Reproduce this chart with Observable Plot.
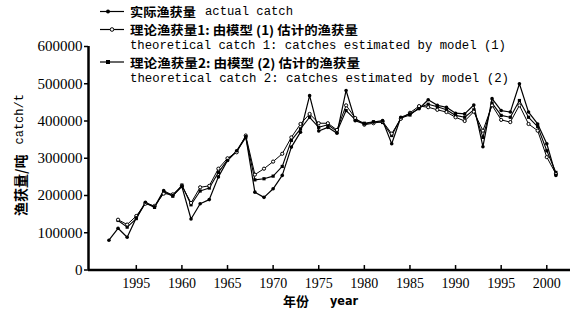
<!DOCTYPE html>
<html><head><meta charset="utf-8">
<script src="https://cdn.jsdelivr.net/npm/d3@7"></script>
<script src="https://cdn.jsdelivr.net/npm/@observablehq/plot@0.6"></script>
<style>
body{margin:0;background:#fff;}
#wrap{position:relative;width:573px;height:314px;overflow:hidden;background:#fff;}
#chart{position:absolute;left:0;top:0;}
#overlay{position:absolute;left:0;top:0;}
</style></head><body>
<div id="wrap"><div id="chart"></div><svg id="overlay" width="573" height="314"></svg></div>
<script>
const years = [1952,1953,1954,1955,1956,1957,1958,1959,1960,1961,1962,1963,1964,1965,1966,1967,1968,1969,1970,1971,1972,1973,1974,1975,1976,1977,1978,1979,1980,1981,1982,1983,1984,1985,1986,1987,1988,1989,1990,1991,1992,1993,1994,1995,1996,1997,1998,1999,2000,2001];
const actualCatch = [80000,112000,88000,140000,182000,170000,213000,200000,224000,137000,178000,189000,250000,294000,320000,358000,209000,195000,218000,254000,330000,370000,468000,373000,383000,367000,482000,401000,392000,397000,401000,339000,410000,419000,433000,457000,442000,437000,421000,419000,443000,331000,460000,428000,424000,500000,424000,392000,339000,254000];
const theoretical1 = [null,135000,122000,145000,178000,172000,205000,203000,226000,180000,222000,226000,272000,300000,316000,361000,256000,272000,291000,312000,356000,392000,419000,394000,394000,376000,442000,408000,390000,394000,399000,366000,406000,422000,440000,437000,430000,424000,410000,400000,425000,374000,442000,403000,397000,442000,392000,374000,303000,258000];
const theoretical2 = [null,133000,115000,138000,180000,168000,210000,198000,228000,175000,212000,220000,262000,296000,318000,356000,242000,245000,252000,278000,348000,379000,410000,383000,390000,372000,428000,404000,394000,398000,396000,361000,408000,416000,436000,445000,438000,430000,415000,410000,430000,356000,448000,415000,410000,455000,410000,385000,320000,262000];
const yTickValues = [0,100000,200000,300000,400000,500000,600000];
const xTickValues = [1955,1960,1965,1970,1975,1980,1985,1990,1995,2000];
const xTickLabels = ["1995","1960","1965","1970","1975","1980","1985","1990","1995","2000"];
const seriesKeys = ["actual","theo1","theo2"];
const legendZh = ["实际渔获量","理论渔获量1: 由模型 (1) 估计的渔获量","理论渔获量2: 由模型 (2) 估计的渔获量"];
const legendEn = ["actual catch","theoretical catch 1: catches estimated by model (1)","theoretical catch 2: catches estimated by model (2)"];
const yTitleZh = "渔获量/吨", yTitleEn = "catch/t";
const xTitleZh = "年份", xTitleEn = "year";

const xDomain = [1949.76, 2002.6];
const yDomain = [0, 600000];
const xTickLength = 12000;

const seriesValues = [actualCatch, theoretical1, theoretical2];
const rows = [];
seriesKeys.forEach((k, s) => years.forEach((yr, i) => {
  const v = seriesValues[s][i];
  if (v != null) rows.push({year: yr, value: v, series: k});
}));
const only = k => d => d.series === k;

const chart = Plot.plot({
  width: 573, height: 314,
  marginLeft: 88, marginRight: 3, marginTop: 46, marginBottom: 44.5,
  x: {domain: xDomain, label: null},
  y: {domain: yDomain, label: null},
  style: {background: "white", color: "black", fontFamily: "'Liberation Serif', serif", fontSize: "14px", overflow: "visible"},
  marks: [
    Plot.axisY(yTickValues, {tickSize: 4, tickPadding: 2, tickFormat: d => String(d), fontSize: 15, label: null, strokeWidth: 1.5}),
    Plot.axisX(xTickValues, {tickSize: 0, tickPadding: 8, tickFormat: d => xTickLabels[xTickValues.indexOf(d)], fontSize: 14, label: null}),
    Plot.ruleX(xTickValues, {y1: 0, y2: xTickLength, strokeWidth: 1.5}),
    Plot.ruleY([0], {strokeWidth: 2.5}),
    Plot.ruleX([xDomain[0]], {y1: 0, y2: yDomain[1], strokeWidth: 2.5}),
    Plot.line(rows, {filter: only("theo1"), x: "year", y: "value", stroke: "black", strokeWidth: 1}),
    Plot.line(rows, {filter: only("theo2"), x: "year", y: "value", stroke: "black", strokeWidth: 1.1}),
    Plot.line(rows, {filter: only("actual"), x: "year", y: "value", stroke: "black", strokeWidth: 1.2}),
    Plot.dot(rows, {filter: only("theo2"), x: "year", y: "value", symbol: "square", r: 1.8, fill: "black"}),
    Plot.dot(rows, {filter: only("theo1"), x: "year", y: "value", symbol: "circle", r: 1.6, fill: "white", stroke: "black", strokeWidth: 1}),
    Plot.dot(rows, {filter: only("actual"), x: "year", y: "value", symbol: "circle", r: 1.8, fill: "black"})
  ]
});
document.getElementById("chart").appendChild(chart);

// legend and titles overlay
const ov = d3.select("#overlay");
const cjk = "'Noto Sans CJK SC'";
const mono = "'Liberation Mono', monospace";
function marker(y, kind) {
  ov.append("line").attr("x1", 100).attr("x2", 124).attr("y1", y).attr("y2", y).attr("stroke", "black").attr("stroke-width", 1.2);
  if (kind === "actual") ov.append("circle").attr("cx", 108).attr("cy", y).attr("r", 2).attr("fill", "black");
  if (kind === "theo1") ov.append("circle").attr("cx", 112).attr("cy", y).attr("r", 1.8).attr("fill", "white").attr("stroke", "black");
  if (kind === "theo2") ov.append("rect").attr("x", 106).attr("y", y - 2).attr("width", 4).attr("height", 4).attr("fill", "black");
}
function txt(x, y, s, fam, size, weight, len) {
  const t = ov.append("text").attr("x", x).attr("y", y).attr("dominant-baseline", "central")
    .attr("font-family", fam).attr("font-size", size).attr("font-weight", weight).attr("fill", "black").text(s);
  if (len) t.attr("textLength", len).attr("lengthAdjust", "spacingAndGlyphs");
  return t;
}
const rowY = [11.5, 29.5, 45.5, 62, 79];
marker(rowY[0], "actual");
txt(130, rowY[0], legendZh[0], cjk, 12.5, 700, 66);
txt(205, rowY[0], legendEn[0], mono, 12, 400, 88);
marker(rowY[1], "theo1");
txt(130, rowY[1], legendZh[1], cjk, 12.5, 700, 228);
txt(130, rowY[2], legendEn[1], mono, 12, 400, 376);
marker(rowY[3], "theo2");
txt(130, rowY[3], legendZh[2], cjk, 12.5, 700, 230);
txt(130, rowY[4], legendEn[2], mono, 12, 400, 379);

// y title (rotated)
const yt = ov.append("text").attr("transform", "translate(20,155) rotate(-90)").attr("text-anchor", "middle")
  .attr("dominant-baseline", "central").attr("fill", "black");
yt.append("tspan").attr("font-family", cjk).attr("font-size", 14).attr("font-weight", 700).text(yTitleZh);
yt.append("tspan").attr("font-family", mono).attr("font-size", 12).attr("dx", 10).text(yTitleEn);
// x title
txt(283, 300, xTitleZh, cjk, 13, 700, 26);
txt(330, 300, xTitleEn, "'DejaVu Sans', sans-serif", 12.5, 700, 28);
</script>
</body></html>
